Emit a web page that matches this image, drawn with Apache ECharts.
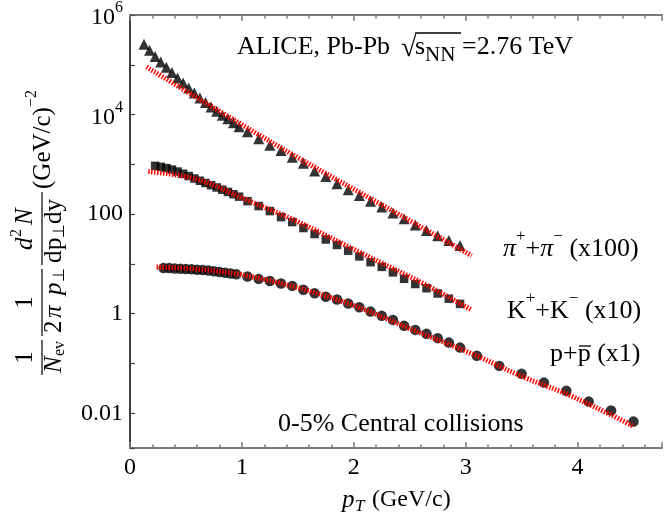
<!DOCTYPE html>
<html><head><meta charset="utf-8">
<script src="https://cdn.jsdelivr.net/npm/echarts@6/dist/echarts.min.js"></script>
<style>html,body{margin:0;padding:0;background:#fff}#c{width:665px;height:516px}</style>
</head><body><div id="c"></div>
<script>
// ---- data ----
const pionPt = [0.125,0.175,0.225,0.275,0.325,0.375,0.425,0.475,0.525,0.575,0.625,0.675,0.725,0.775,0.825,0.875,0.925,0.975,1.05,1.15,1.25,1.35,1.45,1.55,1.65,1.75,1.85,1.95,2.05,2.15,2.25,2.35,2.45,2.55,2.65,2.75,2.85,2.95];
const pionVal = [2.57e5,1.95e5,1.47e5,1.14e5,8.97e4,6.98e4,5.41e4,4.28e4,3.43e4,2.71e4,2.16e4,1.75e4,1.42e4,1.17e4,9.73e3,8.24e3,6.82e3,5.70e3,4.49e3,3.28e3,2.43e3,1.89e3,1.38e3,1.05e3,736,568,407,309,236,181,139,105,80.2,60.7,46.7,36.8,29.4,23.5];
const kaonPt = [0.225,0.275,0.325,0.375,0.425,0.475,0.525,0.575,0.625,0.675,0.725,0.775,0.825,0.875,0.925,0.975,1.05,1.15,1.25,1.35,1.45,1.55,1.65,1.75,1.85,1.95,2.05,2.15,2.25,2.35,2.45,2.55,2.65,2.75,2.85,2.95];
const kaonVal = [933,891,841,785,716,646,582,519,468,422,380,343,309,279,251,224,182,145,115,87.1,69.2,52.5,39.8,30.9,24.0,18.4,14.1,10.8,8.71,6.76,5.01,3.94,3.24,2.54,2.00,1.57];
const protonPt = [0.30,0.35,0.40,0.45,0.50,0.55,0.60,0.65,0.70,0.75,0.80,0.85,0.90,0.95,1.05,1.15,1.25,1.35,1.45,1.55,1.65,1.75,1.85,1.95,2.05,2.15,2.25,2.35,2.45,2.55,2.65,2.75,2.85,2.95,3.1,3.3,3.5,3.7,3.9,4.1,4.3,4.5];
const protonVal = [8.22,8.22,8.04,7.94,7.85,7.76,7.64,7.50,7.33,7.11,6.89,6.64,6.43,6.19,5.56,4.99,4.52,4.05,3.61,3.02,2.57,2.19,1.93,1.60,1.34,1.10,0.904,0.750,0.569,0.472,0.393,0.322,0.262,0.208,0.142,0.0893,0.0617,0.0412,0.0281,0.0171,0.0113,0.00678];

const pionFitPt = [0.148,0.767,1.511,2.30,3.052];
const pionFitVal = [9.02e4,1.29e4,1.32e3,133,14.7];
const kaonFitPt = [0.163,0.593,1.037,1.482,2.074,2.652,3.052];
const kaonFitVal = [718,506,195,73.5,16.2,3.72,1.19];
const protonFitPt = [0.237,0.6,1.0,1.5,2.0,2.5,3.1,3.5,3.9,4.3,4.504];
const protonFitVal = [8.61,7.85,6.03,3.31,1.46,0.50,0.142,0.0553,0.0244,0.00925,0.00538];

const yTickValues = [0.01, 1, 100, 1e4, 1e6];
const yTickLabels = ['0.01', '1', '100', '10^4', '10^6'];
const xTickLabels = ['0', '1', '2', '3', '4'];

// ---- chart ----
const F = "'Liberation Serif','Times New Roman',serif";
const chart = echarts.init(document.getElementById('c'), null, {renderer: 'canvas'});
const pairs = (xs, ys) => xs.map((x, i) => [x, ys[i]]);

function T(x, y, text, size, extra) {
  return Object.assign({
    type: 'text', x: x, y: y, silent: true,
    style: Object.assign({text: text, fontFamily: F, fontSize: size, fill: '#000',
      textAlign: 'left', textVerticalAlign: 'middle'}, (extra && extra.style) || {})
  }, extra && extra.el ? extra.el : {});
}
function L(x1, y1, x2, y2, w) {
  return {type: 'line', silent: true, shape: {x1: x1, y1: y1, x2: x2, y2: y2}, style: {stroke: '#000', lineWidth: w || 1.2}};
}
const it = {style: {fontStyle: 'italic'}};

const gray = '#7a7a7a';
const XMAX = 4.755;
function xAx(pos, interval, tickLen, labels, line) {
  return {
    type: 'value', min: 0, max: XMAX, interval: interval, position: pos, gridIndex: 0,
    splitLine: {show: false},
    axisLine: {show: line, onZero: false, lineStyle: {color: gray, width: 2}},
    axisTick: {show: true, inside: true, length: tickLen, lineStyle: {color: gray, width: 1.5}},
    minorTick: {show: false},
    axisLabel: labels ? {show: true, fontFamily: F, fontSize: 24, color: '#000', margin: 8,
      formatter: v => (Math.abs(v - Math.round(v)) < 1e-6 ? (xTickLabels[Math.round(v)] || '') : '')}
      : {show: false}
  };
}

const sup = {fontFamily: F, fontSize: 17, lineHeight: 17, verticalAlign: 'top'};
const main = {fontFamily: F, fontSize: 26, lineHeight: 34, verticalAlign: 'bottom'};
const mainI = Object.assign({}, main, {fontStyle: 'italic'});

const yTitle = {
  type: 'group', x: 42, y: 400, rotation: Math.PI / 2, silent: true,
  children: [
    T(42.5, -17, '1', 25, {style: {textAlign: 'center'}}),
    L(25, 0, 60, 0),
    T(27, 12, 'N', 25, it),
    T(44, 18, 'ev', 16),
    T(97.5, -17, '1', 25, {style: {textAlign: 'center'}}),
    L(64, 0, 131, 0),
    T(67, 12, '2', 25),
    T(82, 12, 'π', 25, it),
    T(105, 12, 'p', 25, it),
    T(118, 18, '⊥', 16),
    T(150, -17, 'd', 25, it),
    T(163, -25, '2', 16),
    T(175, -17, 'N', 25, it),
    L(135, 0, 208, 0),
    T(137, 12, 'd', 25),
    T(150, 12, 'p', 25),
    T(162.5, 18, '⊥', 16),
    T(176, 12, 'd', 25),
    T(188.5, 12, 'y', 25),
    T(211, 1, '(GeV/c)', 25),
    T(293, -10, '−2', 16)
  ]
};

const fitStyle = {color: '#ff0000', width: 5, type: [1.5, 1.5]};
const option = {
  animation: false,
  backgroundColor: '#fff',
  grid: {left: 130, top: 15, right: 0, bottom: 68, containLabel: false},
  xAxis: [
    xAx('bottom', 1, 6, true, true),
    xAx('bottom', 0.2, 3.5, false, false),
    xAx('top', 1, 6, false, true),
    xAx('top', 0.2, 3.5, false, false)
  ],
  yAxis: {
    type: 'log', logBase: 10, min: 0.002, max: 1e6, splitNumber: 9,
    splitLine: {show: false},
    axisLine: {show: true, onZero: false, lineStyle: {color: '#000', width: 1.5}},
    axisTick: {show: true, inside: true, length: 5, lineStyle: {color: '#444', width: 1.2}},
    minorTick: {show: false},
    axisLabel: {
      show: true, margin: 7, color: '#000', fontFamily: F, fontSize: 24,
      formatter: function (v) {
        const lg = Math.log10(v);
        const idx = yTickValues.findIndex(t => Math.abs(Math.log10(t) - lg) < 1e-6);
        if (idx < 0) return '';
        const s = yTickLabels[idx];
        if (s.indexOf('^') >= 0) {
          const p = s.split('^');
          return '{b|' + p[0] + '}{s|' + p[1] + '}';
        }
        return '{n|' + s + '}';
      },
      rich: {
        n: {fontFamily: F, fontSize: 24, color: '#000'},
        b: {fontFamily: F, fontSize: 24, lineHeight: 30, verticalAlign: 'bottom', color: '#000'},
        s: {fontFamily: F, fontSize: 16, lineHeight: 16, verticalAlign: 'top', color: '#000'}
      }
    }
  },
  series: [
    {type: 'scatter', data: pairs(pionPt, pionVal), symbol: 'triangle', symbolSize: 11,
     itemStyle: {color: '#000'}, z: 2, silent: true},
    {type: 'scatter', data: pairs(kaonPt, kaonVal), symbol: 'rect', symbolSize: 8.5,
     itemStyle: {color: '#000'}, z: 2, silent: true},
    {type: 'scatter', data: pairs(protonPt, protonVal), symbol: 'circle', symbolSize: 10.5,
     itemStyle: {color: '#000'}, z: 2, silent: true},
    {type: 'line', data: pairs(pionFitPt, pionFitVal), smooth: 0.35, showSymbol: false, symbol: 'none',
     lineStyle: fitStyle, z: 5, silent: true},
    {type: 'line', data: pairs(kaonFitPt, kaonFitVal), smooth: 0.35, showSymbol: false, symbol: 'none',
     lineStyle: fitStyle, z: 5, silent: true},
    {type: 'line', data: pairs(protonFitPt, protonFitVal), smooth: 0.35, showSymbol: false, symbol: 'none',
     lineStyle: fitStyle, z: 5, silent: true}
  ],
  graphic: [
    yTitle,
    T(237, 47.5, 'ALICE, Pb-Pb', 26),
    T(401, 48.5, '√', 28),
    L(415, 33, 461, 33, 1.3),
    T(415, 47.5, 's', 26),
    T(425, 55, 'NN', 21),
    T(462, 47.5, '=2.76 TeV', 26),
    {type: 'text', x: 503, y: 245, silent: true, style: {
      text: '{pi|π}{s|+}{m|+}{pi|π}{s|−}{m| (x100)}', textAlign: 'left', textVerticalAlign: 'middle',
      rich: {m: main, pi: mainI, s: sup}}},
    {type: 'text', x: 507, y: 307, silent: true, style: {
      text: '{m|K}{s|+}{m|+K}{s|−}{m| (x10)}', textAlign: 'left', textVerticalAlign: 'middle',
      rich: {m: main, s: sup}}},
    T(550, 354, 'p+p (x1)', 26),
    L(579, 346, 591, 346, 1.3),
    T(278, 424, '0-5% Central collisions', 26),
    T(342, 500, 'p', 25, it),
    T(355, 507, 'T', 17, it),
    T(372, 500, '(GeV/c)', 24)
  ]
};
chart.setOption(option);
</script>
</body></html>
